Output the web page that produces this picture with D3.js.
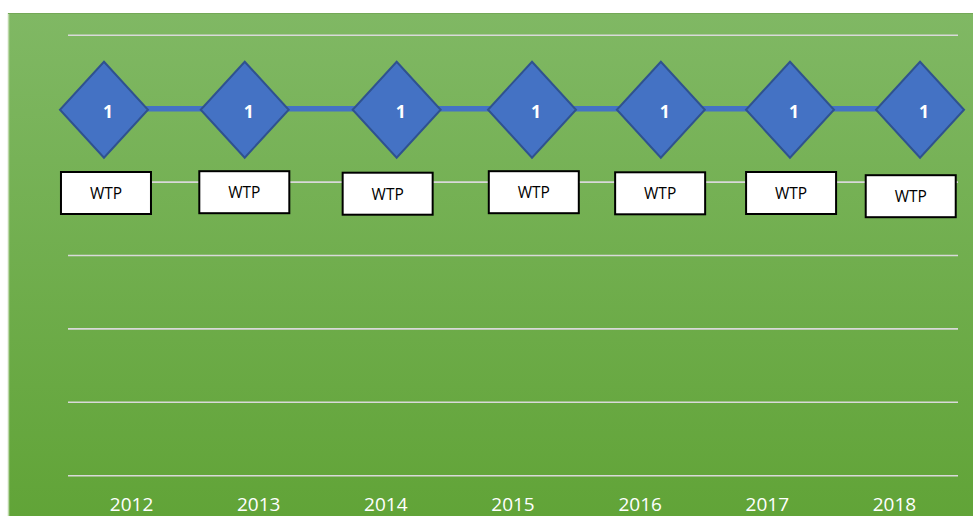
<!DOCTYPE html>
<meta charset="utf-8">
<head>
  <title>WTP by year</title>
</head>

<style>
body {
  margin: 0;
  background: #fff;
}
svg {
  display: block;
}
</style>

<body>
  <div id="content">
    <svg width="973" height="516"></svg>
  </div>

  <script src="https://cdnjs.cloudflare.com/ajax/libs/d3/7.8.5/d3.min.js"></script>

  <script>
// data
var years = ['2012', '2013', '2014', '2015', '2016', '2017', '2018'];
var values = [1, 1, 1, 1, 1, 1, 1];
var tags = ['WTP', 'WTP', 'WTP', 'WTP', 'WTP', 'WTP', 'WTP'];
var yTicks = [0, 0.2, 0.4, 0.6, 0.8, 1, 1.2];

// labels were dragged by hand in the original, keep those nudges here
var diamondNudge = [-27.6, -14, 10.8, 19, 20.7, 22.7, 25.6];
var boxNudgeX = [-25.6, -14.4, 1.8, 20.8, 20, 23.8, 16.3];
var boxNudgeY = [84.3, 83.5, 85, 83.5, 84.6, 84.3, 87.5];

var svg = d3.select('#content svg');

var grad = svg.append('defs').append('linearGradient')
  .attr('id', 'bg')
  .attr('x1', 0).attr('y1', 0)
  .attr('x2', 0).attr('y2', 1);
grad.append('stop').attr('offset', '0%').attr('stop-color', '#80b864');
grad.append('stop').attr('offset', '100%').attr('stop-color', '#60a336');

// chart area
svg.append('rect')
  .attr('x', 8)
  .attr('y', 13)
  .attr('width', 980)
  .attr('height', 520)
  .attr('fill', 'url(#bg)');
svg.append('line')
  .attr('x1', 8.5).attr('x2', 8.5)
  .attr('y1', 13).attr('y2', 516)
  .attr('stroke', '#bcd8a8')
  .attr('stroke-width', 1.5);
svg.append('line')
  .attr('x1', 8).attr('x2', 973)
  .attr('y1', 13.5).attr('y2', 13.5)
  .attr('stroke', '#74a857')
  .attr('stroke-width', 1);

var x = d3.scaleBand()
  .domain(years)
  .range([68, 958]);

var y = d3.scaleLinear()
  .domain([0, 1.2])
  .range([475.7, 35.3]);

function cx(d) {
  return x(d) + x.bandwidth() / 2;
}

// gridlines
svg.append('g')
  .selectAll('line')
  .data(yTicks)
  .join('line')
  .attr('x1', 68)
  .attr('x2', 958)
  .attr('y1', function(d) { return y(d); })
  .attr('y2', function(d) { return y(d); })
  .attr('stroke', '#d9d9d9')
  .attr('stroke-width', 1.6);

// year axis
var xAxis = svg.append('g')
  .attr('transform', 'translate(0,' + 499 + ')')
  .call(d3.axisBottom(x).tickSize(0).tickPadding(0));
xAxis.select('.domain').remove();
xAxis.selectAll('text')
  .attr('dy', null)
  .attr('y', 11.5)
  .attr('fill', '#ffffff')
  .style('font-family', '"Open Sans", sans-serif')
  .style('font-size', '19px');

// line
var line = d3.line()
  .x(function(d, i) { return cx(years[i]); })
  .y(function(d) { return y(d); });

svg.append('path')
  .datum(values)
  .attr('d', line)
  .attr('fill', 'none')
  .attr('stroke', '#4472c4')
  .attr('stroke-width', 5.5);

// diamond labels
var dg = svg.append('g')
  .selectAll('g')
  .data(values)
  .join('g')
  .attr('transform', function(d, i) {
    return 'translate(' + (cx(years[i]) + diamondNudge[i]) + ',' + (y(d) + 1) + ')';
  });

dg.append('path')
  .attr('d', 'M0,-48L44,0L0,48L-44,0Z')
  .attr('fill', '#4472c4')
  .attr('stroke', '#2f528f')
  .attr('stroke-width', 2);

dg.append('text')
  .attr('x', 4)
  .attr('y', 8)
  .attr('text-anchor', 'middle')
  .attr('fill', '#ffffff')
  .style('font-family', '"Open Sans", sans-serif')
  .style('font-weight', 'bold')
  .style('font-size', '17.5px')
  .text(function(d) { return d; });

// WTP boxes
var bg = svg.append('g')
  .selectAll('g')
  .data(tags)
  .join('g')
  .attr('transform', function(d, i) {
    return 'translate(' + (cx(years[i]) + boxNudgeX[i]) + ',' + (y(values[i]) + boxNudgeY[i]) + ')';
  });

bg.append('rect')
  .attr('x', -45)
  .attr('y', -21)
  .attr('width', 90)
  .attr('height', 42)
  .attr('fill', '#ffffff')
  .attr('stroke', '#000000')
  .attr('stroke-width', 2);

bg.append('text')
  .attr('y', 6)
  .attr('text-anchor', 'middle')
  .attr('fill', '#000000')
  .style('font-family', '"Open Sans", sans-serif')
  .style('font-size', '15.5px')
  .text(function(d) { return d; });
  </script>
</body>
</html>
